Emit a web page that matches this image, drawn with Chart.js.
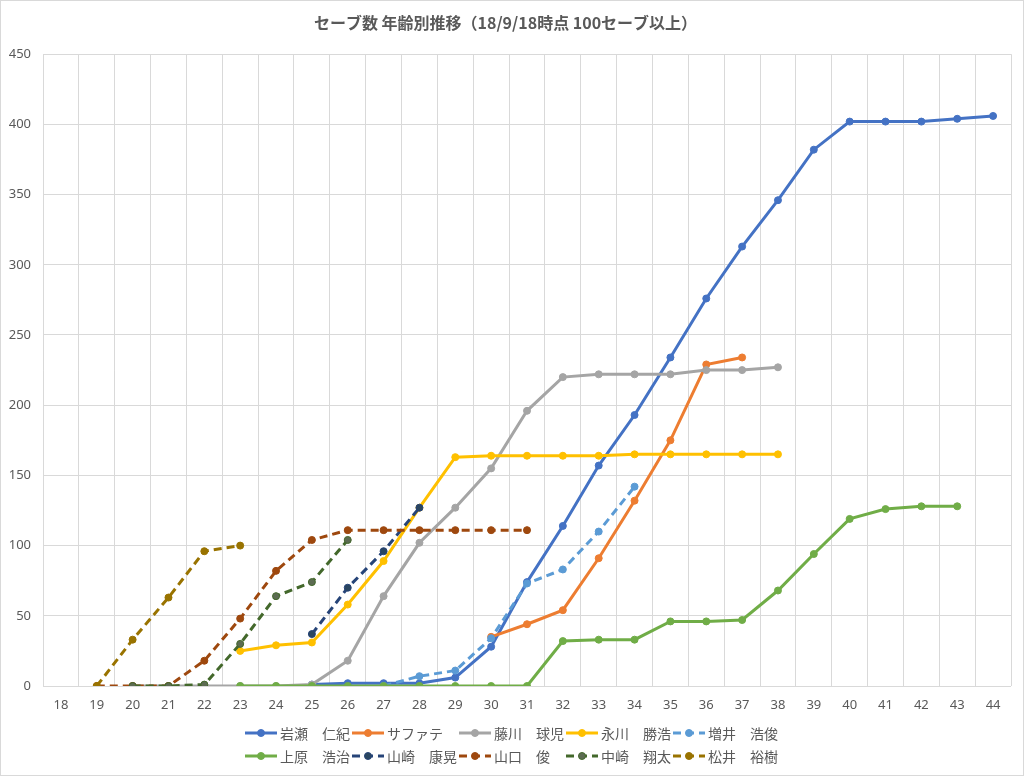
<!DOCTYPE html>
<html lang="ja">
<head>
<meta charset="utf-8">
<title>セーブ数 年齢別推移</title>
<script src="https://cdn.jsdelivr.net/npm/chart.js@4.4.1/dist/chart.umd.min.js"></script>
<style>
  html, body { margin: 0; padding: 0; background: #fff; }
  #wrap { width: 1024px; height: 776px; position: relative; }
</style>
</head>
<body>
<div id="wrap"><canvas id="saveChart"></canvas></div>
<script>
// ages on the x axis
const ages = ['18','19','20','21','22','23','24','25','26','27','28','29','30','31',
              '32','33','34','35','36','37','38','39','40','41','42','43','44'];
const yTicks = [0, 50, 100, 150, 200, 250, 300, 350, 400, 450];

// cumulative saves by age (index 0 = age 18)
const _ = null;
const iwase     = [_,_,_,_,_,_,_, 1, 2, 2, 2, 6, 28, 74, 114, 157, 193, 234, 276, 313, 346, 382, 402, 402, 402, 404, 406];
const saffate   = [_,_,_,_,_,_,_,_,_,_,_,_, 35, 44, 54, 91, 132, 175, 229, 234];
const fujikawa  = [_,_, 0, 0, 0, 0, 0, 1, 18, 64, 102, 127, 155, 196, 220, 222, 222, 222, 225, 225, 227];
const nagakawa  = [_,_,_,_,_, 25, 29, 31, 58, 89, 127, 163, 164, 164, 164, 164, 165, 165, 165, 165, 165];
const masui     = [_,_,_,_,_,_,_,_,_, 0, 7, 11, 34, 73, 83, 110, 142];
const uehara    = [_,_,_,_,_, 0, 0, 0, 0, 0, 0, 0, 0, 0, 32, 33, 33, 46, 46, 47, 68, 94, 119, 126, 128, 128];
const yamasaki  = [_,_,_,_,_,_,_, 37, 70, 96, 127];
const yamaguchi = [_, 0, 0, 0, 18, 48, 82, 104, 111, 111, 111, 111, 111, 111];
const nakazaki  = [_,_, 0, 0, 1, 30, 64, 74, 104];
const matsui    = [_, 0, 33, 63, 96, 100];

const names  = ['岩瀬　仁紀', 'サファテ', '藤川　球児', '永川　勝浩', '増井　浩俊',
                '上原　浩治', '山崎　康晃', '山口　俊', '中崎　翔太', '松井　裕樹'];
const series = [iwase, saffate, fujikawa, nagakawa, masui, uehara, yamasaki, yamaguchi, nakazaki, matsui];
const colors = ['#4472C4', '#ED7D31', '#A5A5A5', '#FFC000', '#5B9BD5',
                '#70AD47', '#264478', '#9E480E', '#43682B', '#997300'];
const markerFill = ['#4472C4', '#ED7D31', '#A5A5A5', '#FFC000', '#5B9BD5',
                    '#70AD47', '#2A4660', '#9E480E', '#5C6B52', '#997300'];
const dashed = [false, false, false, false, true, false, true, true, true, true];

const DASH = [8, 5];
const TEXT = '#595959';
const GRID = '#D9D9D9';

const datasets = series.map((data, i) => ({
  label: names[i],
  data: data,
  borderColor: colors[i],
  backgroundColor: colors[i],
  borderWidth: 3,
  borderDash: dashed[i] ? DASH : [],
  pointRadius: 3.5,
  pointBorderWidth: 1,
  pointBackgroundColor: markerFill[i],
  pointBorderColor: colors[i],
  spanGaps: false,
  tension: 0,
  order: series.length - i   // later series drawn on top, like Excel
}));

// white background + thin outer border
const frame = {
  id: 'frame',
  beforeDraw(chart) {
    const ctx = chart.ctx;
    ctx.save();
    ctx.fillStyle = '#fff';
    ctx.fillRect(0, 0, chart.width, chart.height);
    ctx.strokeStyle = GRID;
    ctx.lineWidth = 1;
    ctx.strokeRect(0.5, 0.5, chart.width - 1, chart.height - 1);
    ctx.restore();
  }
};

// Excel style legend: two rows, grid columns, line sample with marker
const legendRows = [[0, 1, 2, 3, 4], [5, 6, 7, 8, 9]];
const excelLegend = {
  id: 'excelLegend',
  afterDraw(chart) {
    const ctx = chart.ctx;
    const ds = chart.data.datasets;
    ctx.save();
    ctx.font = '14px "Noto Sans CJK JP", sans-serif';
    const sample = 32, gap = 3, tail = 2;
    const colW = legendRows[0].map((_, c) => {
      let w = 0;
      legendRows.forEach(r => {
        w = Math.max(w, sample + gap + ctx.measureText(ds[r[c]].label).width + tail);
      });
      return w;
    });
    const total = colW.reduce((a, b) => a + b, 0);
    const rowY = [733, 756];
    legendRows.forEach((row, ri) => {
      let x = Math.round(chart.width / 2 - total / 2);
      const y = rowY[ri];
      row.forEach((di, c) => {
        const d = ds[di];
        ctx.strokeStyle = d.borderColor;
        ctx.lineWidth = 3;
        ctx.setLineDash(d.borderDash || []);
        ctx.beginPath();
        ctx.moveTo(x, y);
        ctx.lineTo(x + sample, y);
        ctx.stroke();
        ctx.setLineDash([]);
        ctx.fillStyle = d.pointBackgroundColor;
        ctx.strokeStyle = d.pointBorderColor;
        ctx.lineWidth = 1;
        ctx.beginPath();
        ctx.arc(x + sample / 2, y, 3.5, 0, Math.PI * 2);
        ctx.fill();
        ctx.stroke();
        ctx.fillStyle = TEXT;
        ctx.textAlign = 'left';
        ctx.textBaseline = 'middle';
        ctx.fillText(d.label, x + sample + gap, y + 1);
        x += colW[c];
      });
    });
    ctx.restore();
  }
};

const chart = new Chart(document.getElementById('saveChart'), {
  type: 'line',
  data: { labels: ages, datasets: datasets },
  plugins: [frame, excelLegend],
  options: {
    responsive: true,
    maintainAspectRatio: false,
    animation: false,
    layout: { padding: { left: 0, right: 13, top: 0, bottom: 50 } },
    plugins: {
      legend: { display: false },
      tooltip: { enabled: false },
      title: {
        display: true,
        text: 'セーブ数 年齢別推移（18/9/18時点 100セーブ以上）',
        color: TEXT,
        font: { family: '"Noto Sans CJK JP", sans-serif', size: 16, weight: 'bold', lineHeight: 1.2 },
        padding: { top: 13, bottom: 22 }
      }
    },
    scales: {
      x: {
        type: 'category',
        offset: true,
        grid: { offset: true, color: GRID, lineWidth: 1, drawTicks: false },
        border: { display: false },
        ticks: {
          color: TEXT,
          padding: 11,
          maxRotation: 0,
          autoSkip: false,
          font: { family: '"Noto Sans", sans-serif', size: 13 }
        },
        afterFit(scale) { scale.height = 40; }
      },
      y: {
        min: 0,
        max: 450,
        afterBuildTicks(scale) { scale.ticks = yTicks.map(v => ({ value: v })); },
        grid: { color: GRID, lineWidth: 1, drawTicks: false },
        border: { display: false },
        ticks: {
          color: TEXT,
          padding: 12,
          font: { family: '"Noto Sans", sans-serif', size: 13 }
        },
        afterFit(scale) { scale.width = 43; }
      }
    }
  }
});
</script>
</body>
</html>
